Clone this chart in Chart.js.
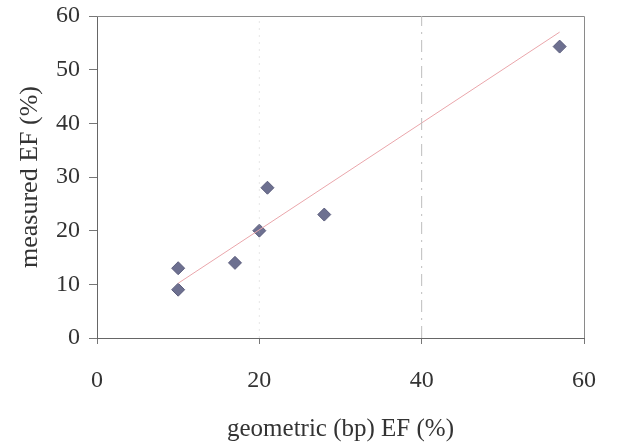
<!DOCTYPE html>
<html>
<head>
<meta charset="utf-8">
<script src="https://cdn.jsdelivr.net/npm/chart.js@4"></script>
<style>
  html, body { margin: 0; padding: 0; background: #fff; }
  #wrap { width: 623px; height: 444px; }
</style>
</head>
<body>
<div id="wrap"><canvas id="chart" width="623" height="444"></canvas></div>
<script>
// measured vs geometric EF values
const geometricEF = [10, 10, 17, 20, 21, 28, 57];
const measuredEF = [9, 13, 14, 20, 28, 23, 54.3];

// fitted trend line end points
const trendX = [10, 57];
const trendY = [10.2, 57];

// dashed reference lines
const refX = [20, 40];
const yRange = [0, 60];

const serif = 'Liberation Serif';

// draws the frame (top and right sides) round the plot area
const framePlugin = {
  id: 'frame',
  beforeDatasetsDraw(chart) {
    const { ctx, chartArea: a } = chart;
    ctx.save();
    ctx.strokeStyle = '#8a8a8a';
    ctx.lineWidth = 1;
    ctx.beginPath();
    ctx.moveTo(a.left, a.top + 0.5);
    ctx.lineTo(a.right + 0.5, a.top + 0.5);
    ctx.lineTo(a.right + 0.5, a.bottom);
    ctx.stroke();
    ctx.restore();
  }
};

const points = geometricEF.map((x, i) => ({ x: x, y: measuredEF[i] }));
const trend = trendX.map((x, i) => ({ x: x, y: trendY[i] }));

const ctx = document.getElementById('chart').getContext('2d');
new Chart(ctx, {
  type: 'scatter',
  data: {
    datasets: [
      {
        type: 'line',
        data: [{ x: refX[0], y: yRange[0] }, { x: refX[0], y: yRange[1] }],
        borderColor: 'rgba(180,180,180,0.3)',
        borderWidth: 1,
        borderDash: [2, 5],
        pointRadius: 0
      },
      {
        type: 'line',
        data: [{ x: refX[1], y: yRange[0] }, { x: refX[1], y: yRange[1] }],
        borderColor: '#bdbdbd',
        borderWidth: 1,
        borderDash: [12, 6, 2, 6],
        pointRadius: 0
      },
      {
        type: 'line',
        data: trend,
        borderColor: '#eaa6ab',
        borderWidth: 1,
        pointRadius: 0
      },
      {
        data: points,
        pointStyle: 'rectRot',
        pointRadius: 6.5,
        backgroundColor: '#6d7090',
        borderColor: '#5b5d7c',
        borderWidth: 1
      }
    ]
  },
  options: {
    responsive: false,
    animation: false,
    layout: { padding: { top: 16, right: 39, left: 0, bottom: 0 } },
    plugins: {
      legend: { display: false },
      tooltip: { enabled: false }
    },
    scales: {
      x: {
        type: 'linear',
        min: 0,
        max: 60,
        afterFit(scale) { scale.height = 106; },
        ticks: {
          stepSize: 20,
          padding: 22,
          color: '#333',
          font: { family: serif, size: 24 }
        },
        grid: { drawOnChartArea: false, tickLength: 6, color: '#777' },
        border: { color: '#666', width: 1 },
        title: {
          display: true,
          text: 'geometric (bp) EF (%)',
          color: '#333',
          font: { family: serif, size: 25 },
          padding: { top: 0, bottom: 0 }
        }
      },
      y: {
        min: 0,
        max: 60,
        afterFit(scale) {
          scale.width = 97;
          scale.paddingTop = 0;
          scale.paddingBottom = 0;
        },
        ticks: {
          stepSize: 10,
          padding: 9,
          color: '#333',
          font: { family: serif, size: 24 }
        },
        grid: { drawOnChartArea: false, tickLength: 8, color: '#777' },
        border: { color: '#666', width: 1 },
        title: {
          display: true,
          text: 'measured EF (%)',
          color: '#333',
          font: { family: serif, size: 26 },
          padding: { top: 15, bottom: 0 }
        }
      }
    }
  },
  plugins: [framePlugin]
});
</script>
</body>
</html>
